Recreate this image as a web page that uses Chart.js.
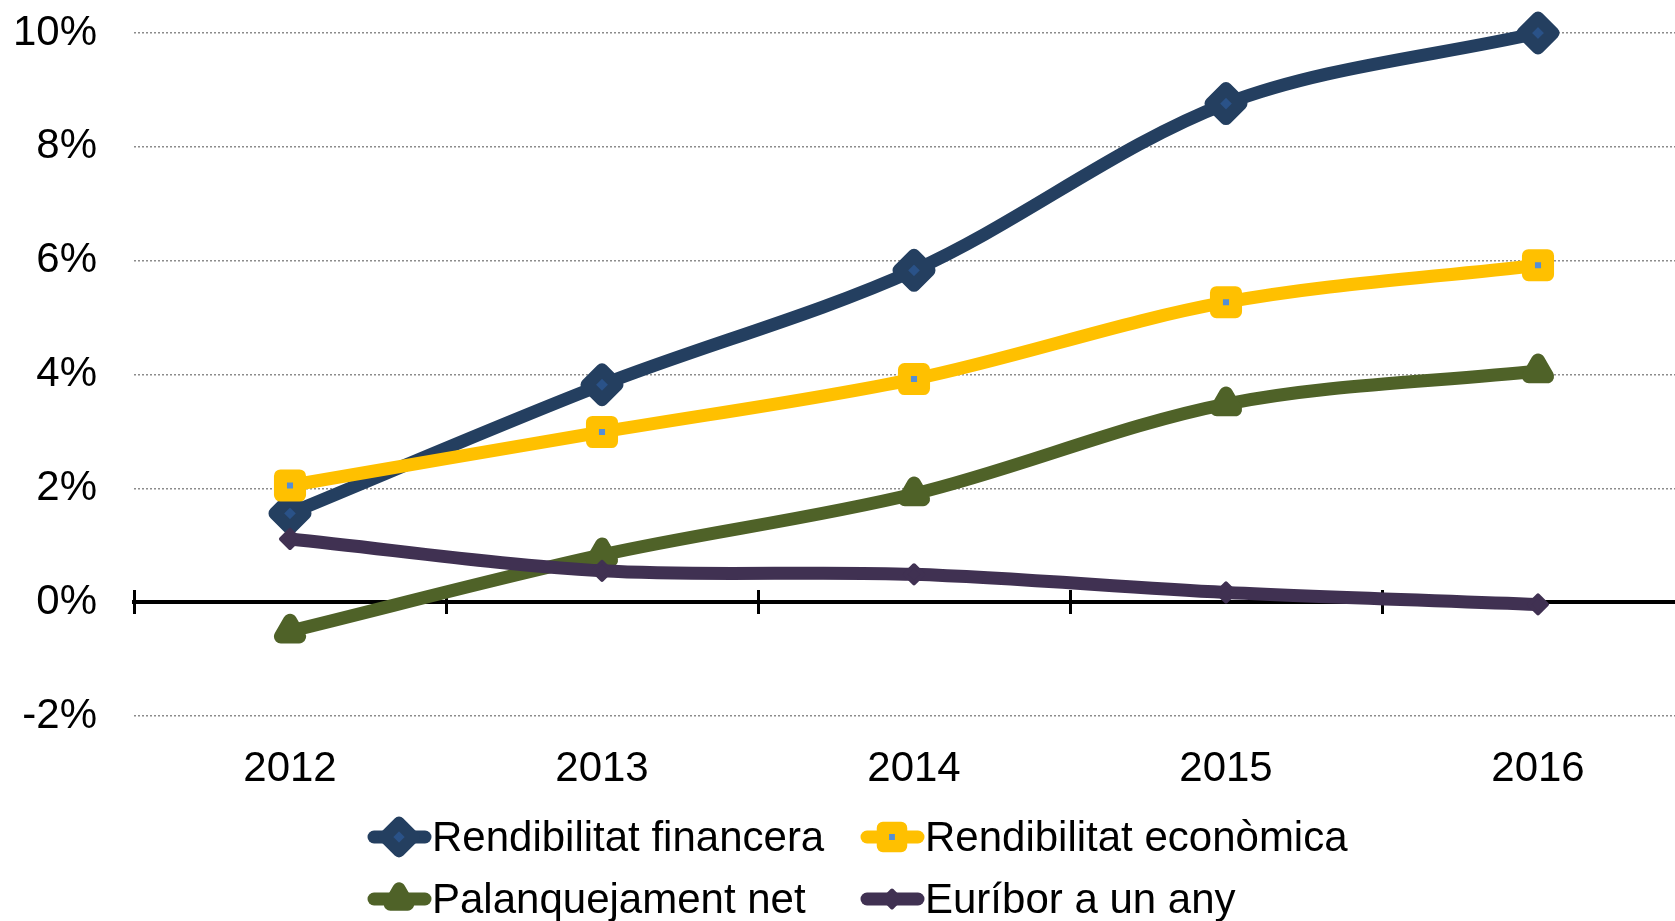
<!DOCTYPE html>
<html>
<head>
<meta charset="utf-8">
<script src="https://cdn.jsdelivr.net/npm/chart.js@4/dist/chart.umd.min.js"></script>
<style>
  html, body { margin: 0; padding: 0; background: #fff; overflow: hidden; }
</style>
</head>
<body>
<canvas id="myChart" width="1700" height="921"></canvas>
<script>
// Data (percent)
const years = ['2012', '2013', '2014', '2015', '2016'];
const financera = [1.56, 3.82, 5.83, 8.76, 10.0];
const economica = [2.05, 2.99, 3.92, 5.27, 5.92];
const palanquejament = [-0.51, 0.83, 1.90, 3.48, 4.06];
const euribor = [1.11, 0.55, 0.49, 0.17, -0.04];
const seriesNames = ['Rendibilitat financera', 'Rendibilitat econòmica', 'Palanquejament net', 'Euríbor a un any'];
const yMin = -2, yMax = 10, yStep = 2;

const FONT = '"Liberation Sans", Arial, sans-serif';

// keep the axes from pushing the plot area around
function noPad(s) {
    s.paddingTop = 0;
    s.paddingBottom = 0;
    s.paddingLeft = 0;
    s.paddingRight = 0;
}

// legend drawn by hand so both columns line up like the original
const legendRows = [[0, 1], [2, 3]];
const lineLegend = {
    id: 'lineLegend',
    beforeDatasetsDraw(chart) {
        chart.ctx.lineJoin = 'round';
    },
    afterDraw(chart) {
        const ctx = chart.ctx;
        const colX = [368, 861];
        const rowY = [837, 899];
        ctx.save();
        ctx.font = '42px ' + FONT;
        ctx.textBaseline = 'middle';
        legendRows.forEach((row, r) => {
            row.forEach((i, c) => {
                const ds = chart.data.datasets[i];
                const x = colX[c], y = rowY[r];
                ctx.strokeStyle = ds.borderColor;
                ctx.lineWidth = 13;
                ctx.lineCap = 'round';
                ctx.beginPath();
                ctx.moveTo(x + 6, y);
                ctx.lineTo(x + 57, y);
                ctx.stroke();
                ctx.lineJoin = 'round';
                ctx.fillStyle = ds.pointBackgroundColor;
                ctx.strokeStyle = ds.pointBorderColor;
                ctx.lineWidth = ds.pointBorderWidth * 0.95;
                Chart.helpers.drawPoint(ctx, {
                    pointStyle: ds.pointStyle,
                    radius: ds.pointRadius * 0.95,
                    rotation: 0,
                    borderWidth: ds.pointBorderWidth
                }, x + 31, y);
                ctx.fillStyle = '#000';
                ctx.fillText(ds.label, x + 64, y + 2);
            });
        });
        ctx.restore();
    }
};

const ctx = document.getElementById('myChart').getContext('2d');
let myChart = new Chart(ctx, {
    type: 'line',
    data: {
        labels: years,
        datasets: [{
            label: seriesNames[0],
            data: financera,
            borderColor: '#243F60',
            borderWidth: 13,
            pointStyle: 'rectRot',
            pointRadius: 15,
            pointBorderWidth: 13,
            pointBorderColor: '#243F60',
            pointBackgroundColor: '#2A5288',
            order: 4
        }, {
            label: seriesNames[1],
            data: economica,
            borderColor: '#FFC000',
            borderWidth: 13,
            pointStyle: 'rect',
            pointRadius: 13.5,
            pointBorderWidth: 13,
            pointBorderColor: '#FFC000',
            pointBackgroundColor: '#558ED5',
            order: 3
        }, {
            label: seriesNames[2],
            data: palanquejament,
            borderColor: '#4F6228',
            borderWidth: 13,
            pointStyle: 'triangle',
            pointRadius: 10.5,
            pointBorderWidth: 14,
            pointBorderColor: '#4F6228',
            pointBackgroundColor: '#4F6228',
            order: 2
        }, {
            label: seriesNames[3],
            data: euribor,
            borderColor: '#403152',
            borderWidth: 13,
            pointStyle: 'rectRot',
            pointRadius: 9,
            pointBorderWidth: 4,
            pointBorderColor: '#403152',
            pointBackgroundColor: '#403152',
            order: 1
        }]
    },
    options: {
        responsive: false,
        animation: false,
        layout: {
            autoPadding: false,
            padding: { left: 13, right: 6, top: 33, bottom: 133 }
        },
        datasets: {
            line: {
                tension: 0.33,
                clip: false,
                borderCapStyle: 'round',
                borderJoinStyle: 'round'
            }
        },
        plugins: {
            legend: { display: false },
            tooltip: { enabled: false }
        },
        scales: {
            y: {
                min: yMin,
                max: yMax,
                afterFit: s => { s.width = 121; noPad(s); },
                ticks: {
                    stepSize: yStep,
                    padding: 37,
                    color: '#000',
                    font: { family: FONT, size: 42 },
                    callback: v => v + '%'
                },
                grid: {
                    color: c => c.tick && c.tick.value === 0 ? 'rgba(0,0,0,0)' : '#8c8c8c',
                    lineWidth: 1.5,
                    drawTicks: false
                },
                border: { display: false, dash: [2, 2] }
            },
            x: {
                offset: true,
                afterFit: s => { s.height = 72; noPad(s); },
                ticks: {
                    padding: 28,
                    color: '#000',
                    font: { family: FONT, size: 42 }
                },
                grid: { display: false, drawTicks: false },
                border: { display: false }
            },
            // the 0% axis line
            x2: {
                axis: 'x',
                position: { y: 0 },
                offset: true,
                afterFit: s => { s.height = 0; noPad(s); },
                ticks: { display: false },
                grid: { drawOnChartArea: false, drawTicks: false },
                border: { display: true, color: '#000', width: 4 }
            },
            // tick marks crossing the 0% line
            x3: {
                axis: 'x',
                position: { y: 0.21 },
                offset: true,
                afterFit: s => { s.height = 0; noPad(s); },
                ticks: { display: false },
                grid: {
                    offset: true,
                    drawOnChartArea: false,
                    drawTicks: true,
                    tickLength: 24,
                    lineWidth: 3,
                    color: '#000'
                },
                border: { display: false }
            }
        }
    },
    plugins: [lineLegend]
});
</script>
</body>
</html>
